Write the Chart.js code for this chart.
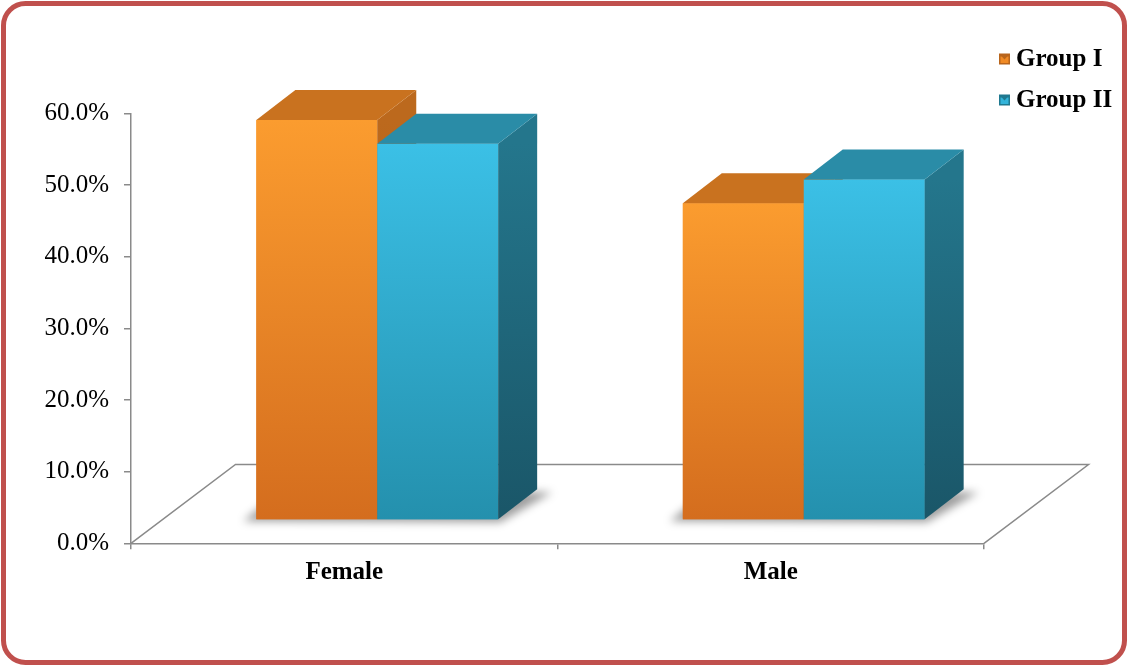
<!DOCTYPE html>
<html><head><meta charset="utf-8">
<script src="https://cdn.jsdelivr.net/npm/chart.js@4"></script>
<style>html,body{margin:0;padding:0;background:#fff;overflow:hidden}#wrap{width:1128px;height:666px;position:relative}</style>
</head><body><div id="wrap"><canvas id="c" width="1128" height="666"></canvas></div>
<script>
const categories = ['Female', 'Male'];
const seriesNames = ['Group I', 'Group II'];
const groupI = [55.8, 44.2];
const groupII = [52.5, 47.5];
const yTickLabels = ['0.0%', '10.0%', '20.0%', '30.0%', '40.0%', '50.0%', '60.0%'];

const FRONT = {dx: 33, dy: -23.3};
const DEPTH = {dx: 39, dy: -30};
const FLOOR = {dx: 104.5, dy: -78.8};
const GRAY = '#8a8a8a';
const FONT = '"Liberation Serif", "Times New Roman", serif';

const palettes = [
  {top: '#FB9C2F', bottom: '#D46D1E', cap: '#C9721F', side1: '#BC691D', side2: '#A55A19', mk: '#F08A25', mkd: '#B8651C'},
  {top: '#3BC0E6', bottom: '#2490AD', cap: '#2A8CA7', side1: '#24768C', side2: '#1A5668', mk: '#33B4DA', mkd: '#1F7990'}
];

function frontGradient(context, i) {
  const chart = context.chart;
  const p = palettes[i];
  if (!chart.chartArea || !context.parsed) return p.top;
  const ys = chart.scales.y;
  const yTop = ys.getPixelForValue(context.parsed.y);
  const yBase = ys.getPixelForValue(0);
  const g = chart.ctx.createLinearGradient(0, yTop, 0, yBase);
  g.addColorStop(0, p.top);
  g.addColorStop(1, p.bottom);
  return g;
}

const threeD = {
  id: 'threeD',
  beforeDatasetsDraw(chart) {
    const ctx = chart.ctx;
    const xs = chart.scales.x, ys = chart.scales.y;
    const y0 = ys.getPixelForValue(0);
    const L = xs.left, R = xs.right;
    // floor
    ctx.save();
    ctx.strokeStyle = GRAY;
    ctx.lineWidth = 1.5;
    ctx.beginPath();
    ctx.moveTo(L, y0); ctx.lineTo(L + FLOOR.dx, y0 + FLOOR.dy);
    ctx.lineTo(R + FLOOR.dx, y0 + FLOOR.dy); ctx.lineTo(R, y0);
    ctx.stroke();
    ctx.restore();
    // shadows
    const m0 = chart.getDatasetMeta(0).data, m1 = chart.getDatasetMeta(1).data;
    ctx.save();
    ctx.filter = 'blur(4px)';
    ctx.fillStyle = 'rgba(0,0,0,0.38)';
    for (let k = 0; k < categories.length; k++) {
      const a = m0[k].getProps(['x', 'width', 'base'], true);
      const b = m1[k].getProps(['x', 'width', 'base'], true);
      const xL = a.x - a.width / 2 + FRONT.dx, xR = b.x + b.width / 2 + FRONT.dx;
      const yb = a.base + FRONT.dy;
      ctx.beginPath();
      ctx.moveTo(xL - 13, yb + 2);
      ctx.lineTo(xR + 2, yb + 3);
      ctx.lineTo(xR + DEPTH.dx + 15, yb + DEPTH.dy + 3);
      ctx.lineTo(xL + DEPTH.dx - 13, yb + DEPTH.dy);
      ctx.closePath();
      ctx.fill();
    }
    ctx.restore();
    ctx.save();
    ctx.translate(FRONT.dx, FRONT.dy);
  },
  afterDatasetsDraw(chart) {
    const ctx = chart.ctx;
    // redraw every box left to right so faces overlap correctly
    const items = [];
    chart.data.datasets.forEach((ds, di) => {
      chart.getDatasetMeta(di).data.forEach(el => items.push({el, di}));
    });
    items.sort((a, b) => a.el.x - b.el.x);
    items.forEach(({el, di}) => {
      const p = palettes[di];
      el.draw(ctx, chart.chartArea);
      const {x, y, base, width} = el.getProps(['x', 'y', 'base', 'width'], true);
      const xL = x - width / 2, xR = x + width / 2;
      const g = ctx.createLinearGradient(0, y, 0, base);
      g.addColorStop(0, p.side1);
      g.addColorStop(1, p.side2);
      ctx.fillStyle = g;
      ctx.beginPath();
      ctx.moveTo(xR, y); ctx.lineTo(xR + DEPTH.dx, y + DEPTH.dy);
      ctx.lineTo(xR + DEPTH.dx, base + DEPTH.dy); ctx.lineTo(xR, base);
      ctx.closePath(); ctx.fill();
      ctx.fillStyle = p.cap;
      ctx.beginPath();
      ctx.moveTo(xL, y); ctx.lineTo(xR, y);
      ctx.lineTo(xR + DEPTH.dx, y + DEPTH.dy); ctx.lineTo(xL + DEPTH.dx, y + DEPTH.dy);
      ctx.closePath(); ctx.fill();
    });
    ctx.restore();
  },
  afterDraw(chart) {
    const ctx = chart.ctx;
    // legend
    ctx.save();
    ctx.font = 'bold 25px ' + FONT;
    ctx.textBaseline = 'middle';
    chart.data.datasets.forEach((ds, i) => {
      const cy = 59 + i * 41;
      const p = palettes[i];
      const mx = 999, my = cy - 5.5, s = 11;
      ctx.fillStyle = p.mkd;
      ctx.fillRect(mx, my, s, s);
      ctx.fillStyle = p.mk;
      ctx.fillRect(mx + 1.5, my + 3, s - 3, s - 4.5);
      ctx.fillStyle = p.mkd;
      ctx.beginPath();
      ctx.moveTo(mx + 1, my + 1); ctx.lineTo(mx + s - 1, my + 1); ctx.lineTo(mx + s / 2, my + 6); ctx.closePath();
      ctx.fill();
      ctx.fillStyle = '#000';
      ctx.fillText(ds.label, 1016, cy + 1);
    });
    ctx.restore();
    // frame
    ctx.save();
    ctx.strokeStyle = '#C0504D';
    ctx.lineWidth = 5;
    ctx.beginPath();
    ctx.roundRect(3.5, 3.5, 1121, 659, 22);
    ctx.stroke();
    ctx.restore();
  }
};

new Chart(document.getElementById('c'), {
  type: 'bar',
  data: {
    labels: categories,
    datasets: [
      {label: seriesNames[0], data: groupI, clip: false,
       backgroundColor: c => frontGradient(c, 0), borderWidth: 0},
      {label: seriesNames[1], data: groupII, clip: false,
       backgroundColor: c => frontGradient(c, 1), borderWidth: 0}
    ]
  },
  options: {
    responsive: false,
    animation: false,
    events: [],
    devicePixelRatio: 1,
    categoryPercentage: 0.567,
    barPercentage: 1.0,
    layout: {padding: {top: 113.3, right: 144, left: 0, bottom: 0}},
    plugins: {legend: {display: false}, tooltip: {enabled: false}},
    scales: {
      x: {
        afterFit: s => { s.height = 122.7; },
        grid: {drawOnChartArea: false, drawTicks: true, tickLength: 6, color: GRAY, lineWidth: 1.5},
        border: {display: true, color: GRAY, width: 1.5},
        ticks: {color: '#000', padding: 8, font: {family: FONT, size: 25, weight: 'bold'}}
      },
      y: {
        min: 0, max: 60,
        afterFit: s => { s.width = 131; },
        grid: {drawOnChartArea: false, drawTicks: true, tickLength: 7, color: GRAY, lineWidth: 1.5},
        border: {display: true, color: GRAY, width: 1.5},
        ticks: {stepSize: 10, color: '#000', padding: 15,
          font: {family: FONT, size: 25},
          callback: (v, i) => yTickLabels[i]}
      }
    }
  },
  plugins: [threeD]
});
</script></body></html>
